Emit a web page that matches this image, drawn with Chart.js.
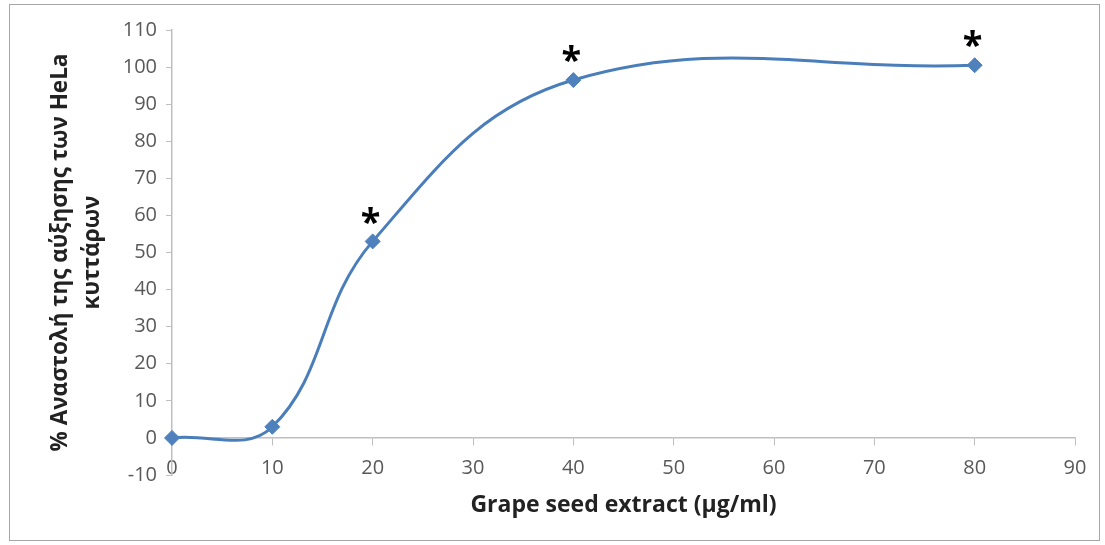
<!DOCTYPE html>
<html>
<head>
<meta charset="utf-8">
<script src="https://cdn.jsdelivr.net/npm/chart.js@4/dist/chart.umd.min.js"></script>
<style>
  html, body { margin: 0; padding: 0; background: #fff; }
  #wrap { width: 1105px; height: 545px; position: relative; }
</style>
</head>
<body>
<div id="wrap"><canvas id="chart"></canvas></div>
<script>
// dose of grape seed extract (µg/ml) and % inhibition of HeLa growth
const doses = [0, 10, 20, 40, 80];
const inhibition = [0, 3, 53, 96.5, 100.5];
// significance marks shown above each point
const marks = ['', '', '*', '*', '*'];

const xTitle = 'Grape seed extract (µg/ml)';
const yTitle = ['% Αναστολή της αύξησης των HeLa', 'κυττάρων'];

const FONT = "'Open Sans', 'DejaVu Sans', sans-serif";

// outer frame + asterisks over significant points
const extrasPlugin = {
  id: 'extras',
  beforeDraw(chart) {
    const { ctx } = chart;
    ctx.save();
    ctx.fillStyle = '#fff';
    ctx.fillRect(0, 0, chart.width, chart.height);
    ctx.strokeStyle = '#a6a6a6';
    ctx.lineWidth = 1;
    ctx.strokeRect(9.5, 4.5, 1090, 536);
    ctx.restore();
  },
  afterDatasetsDraw(chart) {
    const { ctx } = chart;
    const meta = chart.getDatasetMeta(0);
    ctx.save();
    ctx.fillStyle = '#000';
    ctx.font = 'bold 36px ' + FONT;
    ctx.textAlign = 'center';
    ctx.textBaseline = 'middle';
    meta.data.forEach((pt, i) => {
      if (marks[i]) ctx.fillText(marks[i], pt.x - 2, pt.y - 18);
    });
    ctx.restore();
  }
};

new Chart(document.getElementById('chart'), {
  type: 'line',
  data: {
    datasets: [{
      data: doses.map((d, i) => ({ x: d, y: inhibition[i] })),
      borderColor: '#4a7ebb',
      backgroundColor: '#4f81bd',
      borderWidth: 3,
      tension: 0.4,
      pointStyle: 'rectRot',
      pointRadius: 7.5,
      pointBorderWidth: 1,
      pointBorderColor: '#4f81bd',
      pointBackgroundColor: '#4f81bd',
      clip: false
    }]
  },
  options: {
    responsive: true,
    maintainAspectRatio: false,
    animation: false,
    layout: { padding: { left: 10, right: 30, top: 30, bottom: 70 } },
    plugins: { legend: { display: false }, tooltip: { enabled: false } },
    scales: {
      x: {
        type: 'linear',
        position: { y: 0 },
        min: 0,
        max: 90,
        afterFit: s => { s.height = 70; },
        border: { color: '#bfbfbf', width: 1.5 },
        grid: { drawOnChartArea: false, tickLength: 7, color: '#bfbfbf' },
        ticks: { stepSize: 10, padding: 11, color: '#595959', font: { family: FONT, size: 20 } },
        title: {
          display: true,
          text: xTitle,
          color: '#222',
          font: { family: FONT, size: 23, weight: 'bold' },
          padding: { top: 0, bottom: -11 }
        }
      },
      y: {
        type: 'linear',
        min: -10,
        max: 110,
        afterFit: s => { s.width = 162; },
        border: { color: '#bfbfbf', width: 1.5 },
        grid: { drawOnChartArea: false, tickLength: 6, color: '#bfbfbf' },
        ticks: { stepSize: 10, padding: 9, color: '#595959', font: { family: FONT, size: 20 } },
        title: {
          display: true,
          text: yTitle,
          color: '#222',
          font: { family: FONT, size: 22.5, weight: 'bold', lineHeight: 1.45 },
          padding: { top: 34, bottom: 0 }
        }
      }
    }
  },
  plugins: [extrasPlugin]
});
</script>
</body>
</html>
